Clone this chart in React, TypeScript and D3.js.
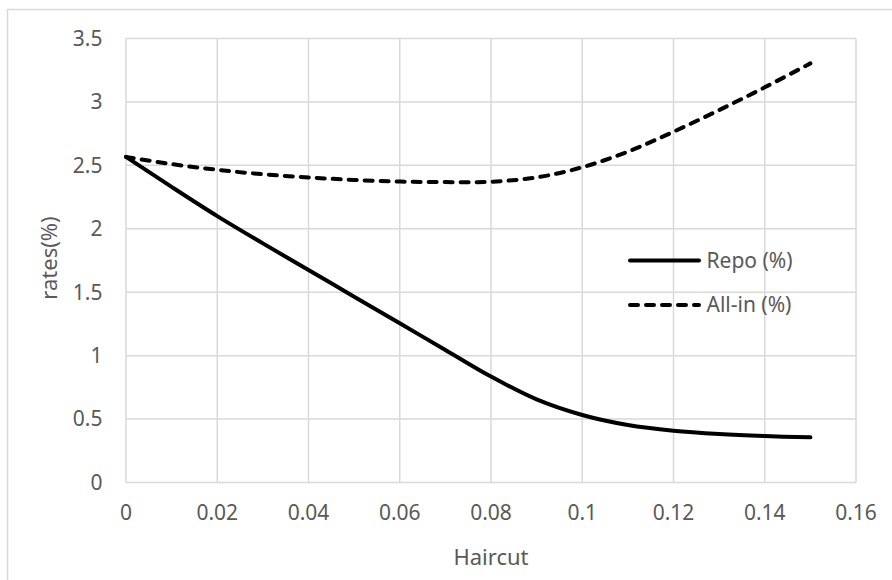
import React from "react";
import * as d3 from "d3";

const haircut = [0, 0.01, 0.02, 0.03, 0.04, 0.05, 0.06, 0.07, 0.08, 0.09, 0.1, 0.11, 0.12, 0.13, 0.14, 0.15];
const repo = [2.567, 2.33, 2.1, 1.885, 1.675, 1.465, 1.255, 1.045, 0.835, 0.655, 0.532, 0.453, 0.408, 0.382, 0.366, 0.356];
const allIn = [2.567, 2.51, 2.465, 2.43, 2.405, 2.385, 2.372, 2.368, 2.371, 2.405, 2.485, 2.608, 2.765, 2.936, 3.115, 3.304];

const xTicks = [0, 0.02, 0.04, 0.06, 0.08, 0.1, 0.12, 0.14, 0.16];
const xTickLabels = ["0", "0.02", "0.04", "0.06", "0.08", "0.1", "0.12", "0.14", "0.16"];
const yTicks = [0, 0.5, 1, 1.5, 2, 2.5, 3, 3.5];
const yTickLabels = ["0", "0.5", "1", "1.5", "2", "2.5", "3", "3.5"];
const seriesNames = ["Repo (%)", "All-in (%)"];

const W = 892;
const H = 580;
const FONT = "'Noto Sans', sans-serif";
const TEXT = "#595959";
const GRID = "#d9d9d9";

export default function App() {
  const x = d3.scaleLinear().domain([0, 0.16]).range([126, 856]);
  const y = d3.scaleLinear().domain([0, 3.5]).range([482.5, 38.5]);

  const line = d3
    .line<[number, number]>()
    .x((d) => x(d[0]))
    .y((d) => y(d[1]))
    .curve(d3.curveCatmullRom.alpha(0.5));

  const repoPath = line(haircut.map((h, i) => [h, repo[i]]) as [number, number][]) || "";
  const allInPath = line(haircut.map((h, i) => [h, allIn[i]]) as [number, number][]) || "";

  const legendX0 = 630;
  const legendX1 = 699;
  const legendY = [260.5, 305];

  return (
    <svg
      width={W}
      height={H}
      style={{ position: "absolute", left: 0, top: 0, background: "#fff" }}
      fontFamily={FONT}
    >
      <rect x={0} y={0} width={W} height={H} fill="#fff" />
      <rect x={7.5} y={9.5} width={W + 20} height={H + 20} fill="none" stroke={GRID} strokeWidth={1.5} />

      {/* gridlines */}
      {yTicks.map((t) => (
        <line key={"gy" + t} x1={x(0)} x2={x(0.16)} y1={y(t)} y2={y(t)} stroke={GRID} strokeWidth={1.5} />
      ))}
      {xTicks.map((t) => (
        <line key={"gx" + t} x1={x(t)} x2={x(t)} y1={y(0)} y2={y(3.5)} stroke={GRID} strokeWidth={1.5} />
      ))}

      {/* tick labels */}
      {yTicks.map((t, i) => (
        <text key={"ty" + t} x={102.5} y={y(t)} dy="0.35em" textAnchor="end" fontSize={21} fill={TEXT}>
          {yTickLabels[i]}
        </text>
      ))}
      {xTicks.map((t, i) => (
        <text key={"tx" + t} x={x(t)} y={513} dy="0.35em" textAnchor="middle" fontSize={21} fill={TEXT}>
          {xTickLabels[i]}
        </text>
      ))}

      {/* axis titles */}
      <text x={491} y={557} dy="0.35em" textAnchor="middle" fontSize={22} fill={TEXT}>
        Haircut
      </text>
      <text
        transform={`translate(49,258) rotate(-90)`}
        dy="0.35em"
        textAnchor="middle"
        fontSize={22}
        fill={TEXT}
      >
        rates(%)
      </text>

      {/* series */}
      <path d={repoPath} fill="none" stroke="#000" strokeWidth={4} strokeLinecap="round" strokeLinejoin="round" />
      <path
        d={allInPath}
        fill="none"
        stroke="#000"
        strokeWidth={4}
        strokeLinecap="round"
        strokeLinejoin="round"
        strokeDasharray="8 8"
      />

      {/* legend */}
      <line x1={legendX0} x2={legendX1} y1={legendY[0]} y2={legendY[0]} stroke="#000" strokeWidth={4} strokeLinecap="round" />
      <line
        x1={legendX0}
        x2={legendX1}
        y1={legendY[1]}
        y2={legendY[1]}
        stroke="#000"
        strokeWidth={4}
        strokeLinecap="round"
        strokeDasharray="8 8"
      />
      {seriesNames.map((n, i) => (
        <text key={n} x={706.5} y={legendY[i]} dy="0.35em" fontSize={21} fill={TEXT}>
          {n}
        </text>
      ))}
    </svg>
  );
}
